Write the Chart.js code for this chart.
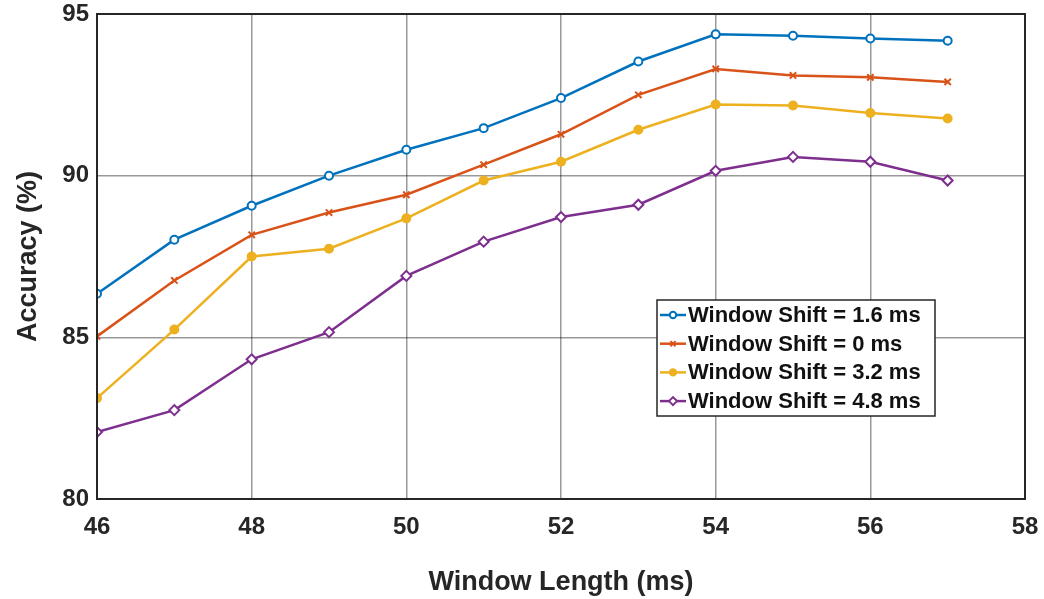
<!DOCTYPE html>
<html>
<head>
<meta charset="utf-8">
<script src="https://cdn.jsdelivr.net/npm/chart.js@4/dist/chart.umd.min.js"></script>
<style>
  body { margin: 0; background: #fff; }
  .wrap { width: 1044px; height: 599px; position: relative; }
</style>
</head>
<body>
<div class="wrap"><canvas id="acc-chart"></canvas></div>
<script>
// data
const windowLength = [46, 47, 48, 49, 50, 51, 52, 53, 54, 55, 56, 57]
const shift16 = [86.35, 88.02, 89.07, 90.0, 90.8, 91.47, 92.4, 93.53, 94.37, 94.33, 94.24, 94.17]
const shift0 = [85.03, 86.76, 88.17, 88.86, 89.41, 90.34, 91.28, 92.5, 93.3, 93.1, 93.04, 92.9]
const shift32 = [83.12, 85.24, 87.5, 87.74, 88.68, 89.85, 90.43, 91.42, 92.2, 92.17, 91.94, 91.77]
const shift48 = [82.07, 82.75, 84.32, 85.16, 86.9, 87.96, 88.72, 89.1, 90.15, 90.58, 90.43, 89.85]
const xTicks = [46, 48, 50, 52, 54, 56, 58]
const yTicks = [80, 85, 90, 95]

const font = "'Liberation Sans', Arial, Helvetica, sans-serif"

const toPoints = (ys) => ys.map((y, i) => ({ x: windowLength[i], y }))

const series = [
  { label: "Window Shift = 1.6 ms", data: shift16, color: "#0072BD", style: "circle", fill: "#fff", radius: 4 },
  { label: "Window Shift = 0 ms", data: shift0, color: "#D95319", style: "crossRot", fill: "#D95319", radius: 4.5 },
  { label: "Window Shift = 3.2 ms", data: shift32, color: "#EDB120", style: "circle", fill: "#EDB120", radius: 4 },
  { label: "Window Shift = 4.8 ms", data: shift48, color: "#7E2F8E", style: "rectRot", fill: "#fff", radius: 5 },
]

// frame round the plot area + legend box inside it
const framePlugin = {
  id: "frame",
  afterDraw(chart) {
    const { ctx, chartArea: a } = chart
    ctx.save()
    ctx.strokeStyle = "#262626"
    ctx.lineWidth = 2
    ctx.strokeRect(a.left, a.top, a.right - a.left, a.bottom - a.top)

    // legend
    const bx = a.left + 560, by = a.top + 286, bw = 278, bh = 116
    ctx.fillStyle = "#fff"
    ctx.fillRect(bx, by, bw, bh)
    ctx.strokeStyle = "#262626"
    ctx.lineWidth = 1.5
    ctx.strokeRect(bx, by, bw, bh)
    ctx.font = `bold 22px ${font}`
    ctx.textBaseline = "middle"
    chart.data.datasets.forEach((ds, i) => {
      const y = by + 15 + i * 28.7
      ctx.strokeStyle = ds.borderColor
      ctx.lineWidth = 2.5
      ctx.beginPath()
      ctx.moveTo(bx + 3, y)
      ctx.lineTo(bx + 29, y)
      ctx.stroke()
      ctx.fillStyle = ds.pointBackgroundColor
      ctx.lineWidth = 2
      Chart.helpers.drawPoint(ctx, { pointStyle: ds.pointStyle, radius: ds.pointRadius * 0.8, rotation: 0, borderWidth: 2 }, bx + 16, y)
      ctx.fillStyle = "#111"
      ctx.fillText(ds.label, bx + 31, y + 1)
    })
    ctx.restore()
  }
}

new Chart(document.querySelector("#acc-chart"), {
  type: "line",
  data: {
    datasets: series.map(s => ({
      label: s.label,
      data: toPoints(s.data),
      borderColor: s.color,
      backgroundColor: s.color,
      pointBackgroundColor: s.fill,
      pointBorderColor: s.color,
      pointStyle: s.style,
      pointRadius: s.radius,
      pointBorderWidth: 2,
      borderWidth: 2.5,
      tension: 0,
    }))
  },
  options: {
    responsive: true,
    maintainAspectRatio: false,
    animation: false,
    layout: { padding: { top: 14, right: 19, left: 0, bottom: 0 } },
    plugins: {
      legend: { display: false },
      tooltip: { enabled: false },
    },
    scales: {
      x: {
        type: "linear",
        min: 46,
        max: 58,
        afterFit: (scale) => {
          scale.height = 100
          scale.paddingLeft = 0
          scale.paddingRight = 0
        },
        afterBuildTicks: (scale) => { scale.ticks = xTicks.map(v => ({ value: v })) },
        ticks: { font: { family: font, size: 24, weight: "bold" }, color: "#262626", padding: 14, maxRotation: 0 },
        grid: { color: "rgba(0,0,0,0.4)", lineWidth: 1.5, drawTicks: false },
        border: { display: false },
        title: { display: true, text: "Window Length (ms)", font: { family: font, size: 27, weight: "bold" }, color: "#262626", padding: { top: 3, bottom: 0 } },
      },
      y: {
        min: 80,
        max: 95,
        afterFit: (scale) => {
          scale.width = 97
          scale.paddingTop = 0
          scale.paddingBottom = 0
        },
        afterBuildTicks: (scale) => { scale.ticks = yTicks.map(v => ({ value: v })) },
        ticks: { font: { family: font, size: 24, weight: "bold" }, color: "#262626", padding: 8 },
        grid: { color: "rgba(0,0,0,0.4)", lineWidth: 1.5, drawTicks: false },
        border: { display: false },
        title: { display: true, text: "Accuracy (%)", font: { family: font, size: 27, weight: "bold" }, color: "#262626", padding: { top: 12, bottom: 0 } },
      }
    }
  },
  plugins: [framePlugin]
})
</script>
</body>
</html>
